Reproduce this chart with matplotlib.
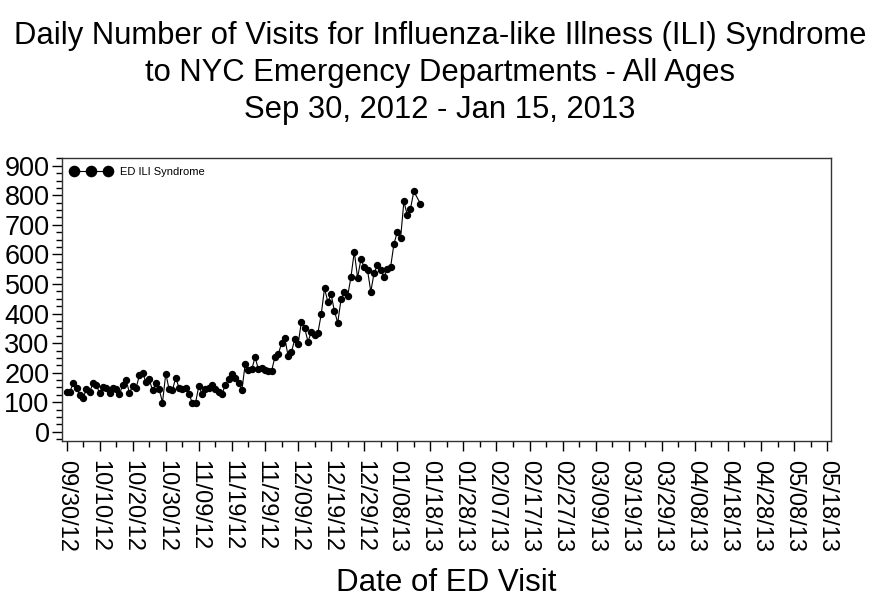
#Visitas diarias ILI - NYC ED
import numpy as np
import pandas as pd
import matplotlib
matplotlib.use('Agg')
import matplotlib.pyplot as plt
import matplotlib.dates as mdates

plt.rcParams['font.family'] = ['Liberation Sans', 'DejaVu Sans']

#Datos, 09/30/12 - 01/15/13, falta 01/14/13
fechas = pd.date_range('2012-09-30', '2013-01-15', freq='D')
fechas = fechas[fechas != pd.Timestamp('2013-01-14')]
visitas = [136, 136, 164, 149, 123, 115, 144, 136, 164, 158,
           130, 153, 149, 132, 149, 144, 127, 160, 175, 132,
           155, 147, 191, 198, 169, 177, 140, 164, 144, 99,
           197, 144, 141, 183, 149, 144, 147, 128, 99, 99,
           155, 127, 144, 149, 160, 144, 135, 127, 160, 177,
           197, 183, 166, 140, 228, 209, 211, 253, 211, 217,
           209, 206, 206, 253, 262, 299, 316, 256, 270, 313,
           296, 371, 351, 305, 338, 328, 335, 397, 485, 440,
           465, 408, 369, 448, 474, 459, 524, 609, 521, 583,
           558, 547, 474, 538, 563, 546, 524, 551, 558, 636,
           675, 654, 779, 735, 754, 813, 772]

titulo = ('Daily Number of Visits for Influenza-like Illness (ILI) Syndrome\n'
          'to NYC Emergency Departments - All Ages\n'
          'Sep 30, 2012 - Jan 15, 2013')

#Figura
fig = plt.figure(figsize=(8.8, 6.13), dpi=100)
ax = fig.add_axes([0.0705, 0.2806, 0.8735, 0.4616])

ax.plot(fechas, visitas, color='black', linewidth=0.8, marker='o',
        markersize=4.3, label='ED ILI Syndrome')

ax.set_ylim(-31, 926)
ax.set_xlim(pd.Timestamp('2012-09-28 15:00'), pd.Timestamp('2013-05-19 02:00'))

ax.yaxis.set_major_locator(plt.MultipleLocator(100))
ax.yaxis.set_minor_locator(plt.MultipleLocator(25))
ticks_x = pd.date_range('2012-09-30', '2013-05-18', freq='10D')
ax.set_xticks(ticks_x)
ax.set_xticks(pd.date_range('2012-10-05', '2013-05-18', freq='10D'), minor=True)
ax.xaxis.set_major_formatter(mdates.DateFormatter('%m/%d/%y'))

ax.tick_params(axis='both', which='major', length=7, width=1, direction='out')
ax.tick_params(axis='both', which='minor', length=4, width=1, direction='out')
ax.tick_params(axis='x', pad=7, labelsize=17)
ax.tick_params(axis='y', pad=2, labelsize=19.5)
plt.setp(ax.get_xticklabels(), rotation=270, va='top', ha='center')

for s in ax.spines.values():
    s.set_linewidth(1)
    s.set_color('#333333')

ax.legend(loc='upper left', numpoints=3, handlelength=3.6, frameon=False,
          fontsize=8, markerscale=1.7, borderaxespad=0.5, borderpad=0.3,
          handletextpad=0.8)

fig.text(0.5, 0.965, titulo, ha='center', va='top', fontsize=22.3, linespacing=1.3)
fig.text(0.507, 0.049, 'Date of ED Visit', ha='center', va='center', fontsize=22.5)

plt.savefig('out.png', dpi=100)
